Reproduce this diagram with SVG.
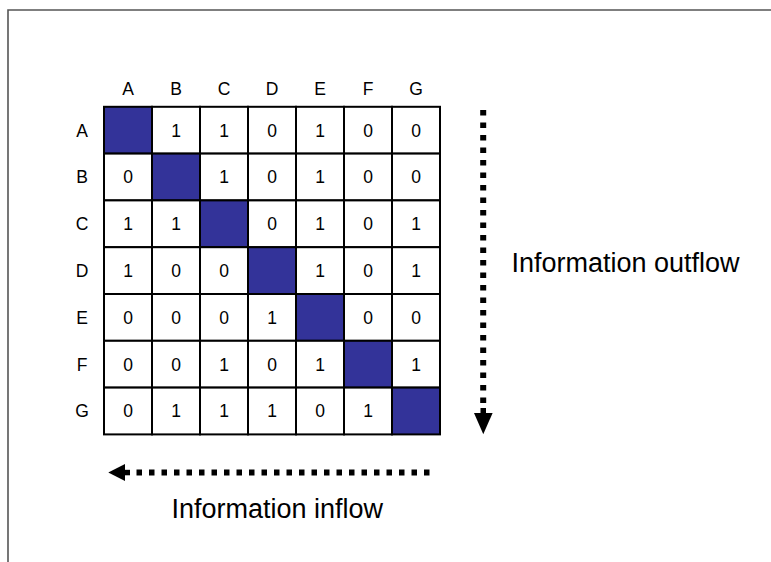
<svg xmlns="http://www.w3.org/2000/svg" width="771" height="562" viewBox="0 0 771 562">
<style>
text{font-family:"Liberation Sans",Arial,sans-serif;fill:#000;}
.lbl{font-size:17.5px;text-anchor:middle;}
.big{font-size:27px;}
.c{fill:#fff;stroke:#000;stroke-width:2;}
.d{fill:#333399;stroke:#000;stroke-width:2;}
.dots{fill:none;stroke:#000;stroke-width:6;stroke-dasharray:5.5 7;}
</style>
<rect width="771" height="562" fill="#fff"/>
<path d="M8 575 V10 H780" fill="none" stroke="#555" stroke-width="1.6"/>
<g id="col-headers">
<text x="128" y="95" class="lbl">A</text><text x="176" y="95" class="lbl">B</text><text x="224" y="95" class="lbl">C</text><text x="272" y="95" class="lbl">D</text><text x="320" y="95" class="lbl">E</text><text x="368" y="95" class="lbl">F</text><text x="416" y="95" class="lbl">G</text>
</g>
<g id="row-headers">
<text x="82" y="136.5" class="lbl">A</text><text x="82" y="183.3" class="lbl">B</text><text x="82" y="230.1" class="lbl">C</text><text x="82" y="276.9" class="lbl">D</text><text x="82" y="323.7" class="lbl">E</text><text x="82" y="370.5" class="lbl">F</text><text x="82" y="417.3" class="lbl">G</text>
</g>
<g id="matrix">
<g id="row-A">
<rect class="d" x="104" y="106.8" width="48" height="46.8"/><rect class="c" x="152" y="106.8" width="48" height="46.8"/><rect class="c" x="200" y="106.8" width="48" height="46.8"/><rect class="c" x="248" y="106.8" width="48" height="46.8"/><rect class="c" x="296" y="106.8" width="48" height="46.8"/><rect class="c" x="344" y="106.8" width="48" height="46.8"/><rect class="c" x="392" y="106.8" width="48" height="46.8"/>
<text class="lbl" x="176" y="136.5">1</text><text class="lbl" x="224" y="136.5">1</text><text class="lbl" x="272" y="136.5">0</text><text class="lbl" x="320" y="136.5">1</text><text class="lbl" x="368" y="136.5">0</text><text class="lbl" x="416" y="136.5">0</text>
</g>
<g id="row-B">
<rect class="c" x="104" y="153.6" width="48" height="46.8"/><rect class="d" x="152" y="153.6" width="48" height="46.8"/><rect class="c" x="200" y="153.6" width="48" height="46.8"/><rect class="c" x="248" y="153.6" width="48" height="46.8"/><rect class="c" x="296" y="153.6" width="48" height="46.8"/><rect class="c" x="344" y="153.6" width="48" height="46.8"/><rect class="c" x="392" y="153.6" width="48" height="46.8"/>
<text class="lbl" x="128" y="183.3">0</text><text class="lbl" x="224" y="183.3">1</text><text class="lbl" x="272" y="183.3">0</text><text class="lbl" x="320" y="183.3">1</text><text class="lbl" x="368" y="183.3">0</text><text class="lbl" x="416" y="183.3">0</text>
</g>
<g id="row-C">
<rect class="c" x="104" y="200.4" width="48" height="46.8"/><rect class="c" x="152" y="200.4" width="48" height="46.8"/><rect class="d" x="200" y="200.4" width="48" height="46.8"/><rect class="c" x="248" y="200.4" width="48" height="46.8"/><rect class="c" x="296" y="200.4" width="48" height="46.8"/><rect class="c" x="344" y="200.4" width="48" height="46.8"/><rect class="c" x="392" y="200.4" width="48" height="46.8"/>
<text class="lbl" x="128" y="230.1">1</text><text class="lbl" x="176" y="230.1">1</text><text class="lbl" x="272" y="230.1">0</text><text class="lbl" x="320" y="230.1">1</text><text class="lbl" x="368" y="230.1">0</text><text class="lbl" x="416" y="230.1">1</text>
</g>
<g id="row-D">
<rect class="c" x="104" y="247.2" width="48" height="46.8"/><rect class="c" x="152" y="247.2" width="48" height="46.8"/><rect class="c" x="200" y="247.2" width="48" height="46.8"/><rect class="d" x="248" y="247.2" width="48" height="46.8"/><rect class="c" x="296" y="247.2" width="48" height="46.8"/><rect class="c" x="344" y="247.2" width="48" height="46.8"/><rect class="c" x="392" y="247.2" width="48" height="46.8"/>
<text class="lbl" x="128" y="276.9">1</text><text class="lbl" x="176" y="276.9">0</text><text class="lbl" x="224" y="276.9">0</text><text class="lbl" x="320" y="276.9">1</text><text class="lbl" x="368" y="276.9">0</text><text class="lbl" x="416" y="276.9">1</text>
</g>
<g id="row-E">
<rect class="c" x="104" y="294" width="48" height="46.8"/><rect class="c" x="152" y="294" width="48" height="46.8"/><rect class="c" x="200" y="294" width="48" height="46.8"/><rect class="c" x="248" y="294" width="48" height="46.8"/><rect class="d" x="296" y="294" width="48" height="46.8"/><rect class="c" x="344" y="294" width="48" height="46.8"/><rect class="c" x="392" y="294" width="48" height="46.8"/>
<text class="lbl" x="128" y="323.7">0</text><text class="lbl" x="176" y="323.7">0</text><text class="lbl" x="224" y="323.7">0</text><text class="lbl" x="272" y="323.7">1</text><text class="lbl" x="368" y="323.7">0</text><text class="lbl" x="416" y="323.7">0</text>
</g>
<g id="row-F">
<rect class="c" x="104" y="340.8" width="48" height="46.8"/><rect class="c" x="152" y="340.8" width="48" height="46.8"/><rect class="c" x="200" y="340.8" width="48" height="46.8"/><rect class="c" x="248" y="340.8" width="48" height="46.8"/><rect class="c" x="296" y="340.8" width="48" height="46.8"/><rect class="d" x="344" y="340.8" width="48" height="46.8"/><rect class="c" x="392" y="340.8" width="48" height="46.8"/>
<text class="lbl" x="128" y="370.5">0</text><text class="lbl" x="176" y="370.5">0</text><text class="lbl" x="224" y="370.5">1</text><text class="lbl" x="272" y="370.5">0</text><text class="lbl" x="320" y="370.5">1</text><text class="lbl" x="416" y="370.5">1</text>
</g>
<g id="row-G">
<rect class="c" x="104" y="387.6" width="48" height="46.8"/><rect class="c" x="152" y="387.6" width="48" height="46.8"/><rect class="c" x="200" y="387.6" width="48" height="46.8"/><rect class="c" x="248" y="387.6" width="48" height="46.8"/><rect class="c" x="296" y="387.6" width="48" height="46.8"/><rect class="c" x="344" y="387.6" width="48" height="46.8"/><rect class="d" x="392" y="387.6" width="48" height="46.8"/>
<text class="lbl" x="128" y="417.3">0</text><text class="lbl" x="176" y="417.3">1</text><text class="lbl" x="224" y="417.3">1</text><text class="lbl" x="272" y="417.3">1</text><text class="lbl" x="320" y="417.3">0</text><text class="lbl" x="368" y="417.3">1</text>
</g>
</g>
<g id="connectors">
<path class="dots" d="M483.2 110 V403"/>
<rect x="480.5" y="408" width="5.5" height="6"/>
<polygon points="474,413 492.6,413 483.3,434.3"/>
<path class="dots" d="M136.5 472.5 H430"/>
<rect x="124" y="469.8" width="6" height="5.5"/>
<polygon points="125,464 125,481 108.3,472.5"/>
</g>
<g id="label-outflow"><text class="big" x="511.5" y="272">Information outflow</text></g>
<g id="label-inflow"><text class="big" x="171.5" y="518">Information inflow</text></g>
</svg>
